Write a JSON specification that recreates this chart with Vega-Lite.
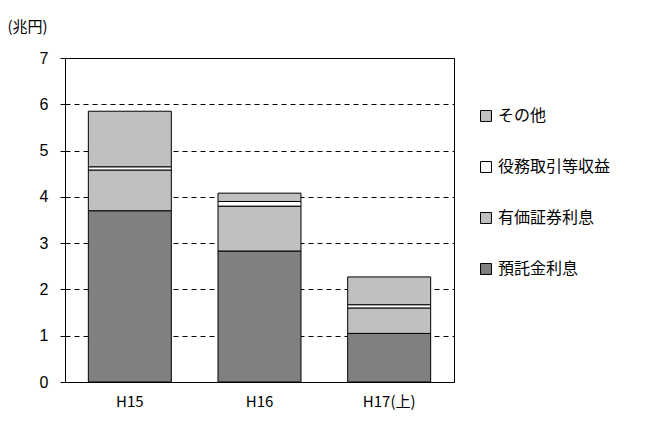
{
  "$schema": "https://vega.github.io/schema/vega-lite/v6.json",
  "width": 389,
  "height": 324,
  "autosize": "none",
  "padding": {"left": 65, "top": 58, "right": 193, "bottom": 41},
  "background": "white",
  "config": {
    "font": "Noto Sans CJK JP",
    "view": {"stroke": "black", "strokeWidth": 1}
  },
  "data": {
    "values": [
      {"year": "H15", "item": "預託金利息", "o": 1, "v": 3.7},
      {"year": "H15", "item": "有価証券利息", "o": 2, "v": 0.88},
      {"year": "H15", "item": "役務取引等収益", "o": 3, "v": 0.07},
      {"year": "H15", "item": "その他", "o": 4, "v": 1.2},
      {"year": "H16", "item": "預託金利息", "o": 1, "v": 2.83},
      {"year": "H16", "item": "有価証券利息", "o": 2, "v": 0.97},
      {"year": "H16", "item": "役務取引等収益", "o": 3, "v": 0.1},
      {"year": "H16", "item": "その他", "o": 4, "v": 0.18},
      {"year": "H17(上)", "item": "預託金利息", "o": 1, "v": 1.05},
      {"year": "H17(上)", "item": "有価証券利息", "o": 2, "v": 0.55},
      {"year": "H17(上)", "item": "役務取引等収益", "o": 3, "v": 0.07},
      {"year": "H17(上)", "item": "その他", "o": 4, "v": 0.6}
    ]
  },
  "mark": {"type": "bar", "stroke": "black", "strokeWidth": 1},
  "encoding": {
    "x": {
      "field": "year", "type": "nominal", "sort": null, "title": null,
      "scale": {"paddingInner": 0.36, "paddingOuter": 0.18},
      "axis": {"labelAngle": 0, "ticks": false, "labelPadding": 12, "labelFont": "Noto Sans CJK JP",
        "labelFontSize": 15, "labelColor": "black", "domainColor": "black"}
    },
    "y": {
      "field": "v", "type": "quantitative", "stack": "zero",
      "scale": {"domain": [0, 7]},
      "axis": {
        "tickCount": 7, "title": "(兆円)", "titleAngle": 0, "titleX": -58, "titleY": -24,
        "titleAlign": "left", "titleFontSize": 15, "titleFontWeight": "normal",
        "titleFont": "Noto Sans CJK JP", "titleColor": "black",
        "labelFont": "Liberation Sans", "labelFontSize": 16, "labelColor": "black",
        "domainColor": "black", "tickColor": "black",
        "grid": true, "gridColor": "black", "gridDash": [5, 4], "tickSize": 5, "labelPadding": 12
      }
    },
    "order": {"field": "o"},
    "color": {
      "field": "item", "type": "nominal",
      "scale": {
        "domain": ["その他", "役務取引等収益", "有価証券利息", "預託金利息"],
        "range": ["#c0c0c0", "#ffffff", "#c0c0c0", "#808080"]
      },
      "legend": {
        "title": null, "orient": "none", "legendX": 413, "legendY": 50,
        "symbolType": "square", "symbolSize": 120, "symbolStrokeColor": "black", "symbolStrokeWidth": 1,
        "labelFontSize": 16, "labelColor": "black", "rowPadding": 35, "labelFont": "Noto Sans CJK JP"
      }
    }
  }
}
